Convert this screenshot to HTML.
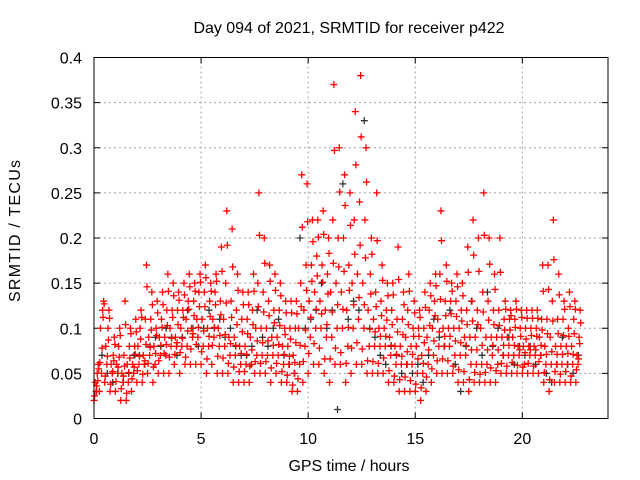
<!DOCTYPE html>
<html><head><meta charset="utf-8"><style>
body{margin:0;background:#fff}
svg{display:block;font-family:"Liberation Sans",sans-serif}
</style></head><body>
<svg id="chart" width="640" height="480">
<text x="349" y="33" text-anchor="middle" font-size="16" textLength="311">Day 094 of 2021, SRMTID for receiver p422</text>
<text x="349" y="471" text-anchor="middle" font-size="16" textLength="121">GPS time / hours</text>
<text transform="translate(20,231) rotate(-90)" text-anchor="middle" font-size="16" textLength="142">SRMTID / TECUs</text>
<g id="grid"></g><g id="ticks"></g><g id="marks"></g>
<rect x="94" y="57.5" width="514" height="361" fill="none" stroke="#000"/>
</svg>
<script>
const xTicks=[0,5,10,15,20];
const yTicks=[0,0.05,0.1,0.15,0.2,0.25,0.3,0.35,0.4];
const yTickLabels=["0","0.05","0.1","0.15","0.2","0.25","0.3","0.35","0.4"];
const tStep=0.25;
const sLow=[.02,.03,.04,.03,.03,.02,.02,.03,.04,.04,.05,.04,.05,.05,.05,.06,.05,.06,.06,.06,.06,.05,.06,.05,.05,.05,.04,.04,.04,.04,.05,.05,.05,.04,.05,.04,.04,.03,.03,.04,.05,.06,.06,.05,.04,.06,.06,.04,.05,.06,.06,.05,.05,.05,.05,.04,.04,.03,.03,.03,.03,.02,.03,.04,.05,.05,.05,.05,.04,.04,.03,.04,.04,.04,.04,.04,.05,.05,.05,.05,.05,.05,.05,.05,.04,.03,.04,.04,.04,.04,.04];
const sMidLow=[.03,.05,.06,.05,.05,.04,.04,.05,.06,.06,.07,.06,.07,.07,.08,.08,.08,.08,.09,.09,.08,.08,.09,.08,.08,.07,.07,.06,.06,.06,.07,.07,.07,.07,.07,.06,.06,.05,.06,.08,.09,.1,.1,.09,.09,.1,.1,.08,.1,.11,.1,.08,.08,.08,.08,.07,.06,.06,.06,.06,.05,.05,.06,.07,.08,.08,.08,.07,.07,.07,.06,.06,.06,.06,.07,.06,.07,.07,.07,.07,.06,.07,.07,.07,.06,.06,.06,.06,.06,.06,.06];
const sMid=[.04,.1,.08,.06,.06,.05,.06,.06,.08,.07,.09,.08,.09,.09,.1,.09,.1,.11,.1,.11,.11,.1,.11,.1,.11,.09,.09,.08,.08,.09,.1,.1,.1,.09,.09,.08,.08,.07,.1,.12,.13,.14,.13,.12,.14,.15,.14,.12,.15,.16,.15,.12,.11,.1,.1,.09,.08,.08,.09,.08,.08,.07,.09,.1,.11,.1,.1,.1,.1,.09,.09,.09,.1,.09,.09,.09,.09,.09,.09,.08,.08,.08,.08,.09,.08,.09,.08,.08,.08,.08,.07];
const sMidHigh=[.05,.12,.1,.07,.08,.07,.08,.08,.1,.11,.11,.1,.11,.12,.12,.12,.12,.13,.13,.14,.14,.13,.14,.13,.15,.13,.12,.11,.11,.12,.15,.14,.13,.12,.12,.1,.1,.1,.15,.17,.17,.18,.17,.16,.22,.2,.2,.17,.22,.24,.22,.16,.14,.13,.12,.12,.11,.11,.12,.1,.1,.1,.12,.13,.16,.13,.13,.13,.12,.12,.13,.12,.14,.13,.12,.12,.11,.11,.11,.1,.1,.1,.1,.11,.11,.13,.11,.11,.1,.11,.09];
const sHigh=[.06,.13,.12,.09,.1,.13,.1,.11,.12,.17,.14,.13,.14,.16,.15,.14,.15,.16,.15,.16,.17,.15,.16,.19,.23,.21,.16,.14,.14,.16,.25,.2,.17,.16,.15,.13,.13,.13,.27,.26,.22,.22,.23,.2,.37,.3,.27,.25,.34,.38,.3,.2,.25,.17,.15,.15,.19,.14,.16,.13,.12,.14,.15,.16,.23,.17,.15,.16,.15,.19,.22,.2,.25,.2,.16,.2,.13,.12,.13,.12,.12,.12,.12,.17,.17,.22,.16,.13,.14,.13,.12];
const sA=[.025,.062,.047,.038,.041,.033,.028,.044,.053,.049,.061,.057,.064,.072,.068,.071,.073,.068,.077,.082,.074,.066,.081,.069,.067,.061,.057,.052,.052,.058,.063,.061,.063,.056,.061,.052,.048,.037,.044,.063,.072,.083,.078,.066,.066,.078,.073,.061,.078,.084,.077,.064,.063,.061,.067,.053,.047,.043,.046,.042,.038,.034,.046,.055,.064,.066,.064,.058,.054,.052,.043,.051,.049,.051,.056,.053,.061,.058,.062,.059,.057,.061,.058,.063,.051,.043,.052,.049,.052,.047,.054];
const sB=[.042,.112,.087,.064,.068,.058,.067,.071,.088,.082,.098,.092,.101,.103,.112,.104,.112,.121,.114,.124,.124,.113,.126,.115,.128,.112,.104,.096,.094,.104,.124,.118,.114,.106,.103,.093,.088,.084,.124,.142,.152,.158,.151,.138,.172,.168,.163,.142,.182,.192,.178,.138,.124,.114,.109,.104,.096,.093,.104,.091,.091,.084,.103,.114,.132,.114,.116,.113,.108,.104,.108,.104,.118,.109,.104,.103,.098,.098,.101,.091,.088,.092,.091,.098,.094,.108,.094,.092,.091,.094,.083];
const sC=[.036,.078,.069,.052,.057,.047,.051,.057,.069,.064,.079,.072,.081,.082,.089,.084,.089,.097,.094,.101,.097,.091,.101,.092,.093,.083,.081,.072,.071,.076,.086,.084,.086,.081,.082,.071,.069,.062,.081,.098,.112,.121,.116,.104,.118,.126,.121,.101,.126,.134,.126,.099,.096,.091,.091,.081,.071,.069,.074,.071,.066,.061,.076,.086,.096,.091,.091,.086,.084,.081,.076,.076,.081,.076,.081,.076,.081,.081,.081,.076,.073,.076,.076,.081,.071,.074,.071,.071,.072,.071,.066];
const sD=[.055,.127,.111,.082,.092,.104,.094,.096,.112,.146,.126,.117,.126,.141,.136,.131,.137,.146,.141,.151,.156,.141,.152,.163,.192,.168,.142,.126,.126,.141,.203,.172,.152,.142,.136,.117,.117,.116,.212,.218,.196,.201,.204,.183,.297,.251,.236,.214,.281,.312,.262,.182,.197,.153,.136,.137,.154,.126,.141,.117,.112,.123,.136,.147,.197,.152,.141,.146,.136,.162,.181,.163,.203,.171,.143,.162,.121,.114,.121,.112,.111,.111,.111,.141,.143,.176,.137,.121,.124,.121,.106];
const sBlack=[.03,.07,.05,.04,.05,.04,.05,.07,.07,.06,.08,.09,.08,.1,.09,.07,.09,.12,.1,.08,.1,.12,.1,.11,.09,.1,.08,.07,.07,.08,.12,.09,.08,.1,.11,.07,.06,.05,.2,.1,.11,.12,.15,.1,.12,.01,.26,.11,.13,.12,.33,.1,.09,.07,.06,.08,.07,.05,.06,.05,.06,.04,.07,.11,.09,.08,.12,.06,.03,.08,.13,.1,.07,.14,.08,.1,.07,.09,.06,.08,.07,.08,.06,.07,.05,.04,.06,.09,.06,.05,.07];
const X0=94,X1=608,Y0=418.5,Y1=57.5;
const xs=v=>X0+v/24*(X1-X0);
const ys=v=>Y0-v/0.4*(Y0-Y1);
const NS='http://www.w3.org/2000/svg';
const grid=document.getElementById('grid'),ticks=document.getElementById('ticks'),marks=document.getElementById('marks');
function mk(tag,attrs,parent){const e=document.createElementNS(NS,tag);for(const k in attrs)e.setAttribute(k,attrs[k]);parent.appendChild(e);return e;}
xTicks.forEach(v=>{const x=xs(v);
 if(v>0){const g=mk('line',{x1:x,x2:x,y1:Y0,y2:Y1,stroke:'#a0a0a0','stroke-dasharray':'2,3'},grid);
 
 }
 mk('line',{x1:x,x2:x,y1:Y0,y2:Y0-6,stroke:'#000'},ticks);
 mk('line',{x1:x,x2:x,y1:Y1,y2:Y1+6,stroke:'#000'},ticks);
 const t=mk('text',{x:x,y:444,'text-anchor':'middle','font-size':'16'},ticks);t.textContent=v;
 
 
});
yTicks.forEach((v,i)=>{const y=ys(v);
 if(v>0&&v<0.4){const g=mk('line',{x1:X0,x2:X1,y1:y,y2:y,stroke:'#a0a0a0','stroke-dasharray':'2,3'},grid);
 
 }
 mk('line',{x1:X0,x2:X0+6,y1:y,y2:y,stroke:'#000'},ticks);
 mk('line',{x1:X1,x2:X1-6,y1:y,y2:y,stroke:'#000'},ticks);
 const t=mk('text',{x:82,y:y+6,'text-anchor':'end','font-size':'16'},ticks);t.textContent=yTickLabels[i];
 
 
});
function cross(t,v,color,name){const x=xs(t),y=ys(v);
 const p=mk('path',{d:`M${x-3.5},${y}h7M${x},${y-3.5}v7`,stroke:color,'stroke-width':1.3,fill:'none'},marks);
 
 
}
sBlack.forEach((v,i)=>cross(i*tStep+0.12,v,'#333','black-point'));
const reds=[[sLow,0],[sA,0.025],[sMidLow,0.1],[sMid,0.05],[sC,0.125],[sMidHigh,0.15],[sB,0.175],[sHigh,0.2],[sD,0.225]];
reds.forEach(([arr,off])=>arr.forEach((v,i)=>cross(i*tStep+off,v,'#ff0000','red-point')));
</script>
</body></html>
